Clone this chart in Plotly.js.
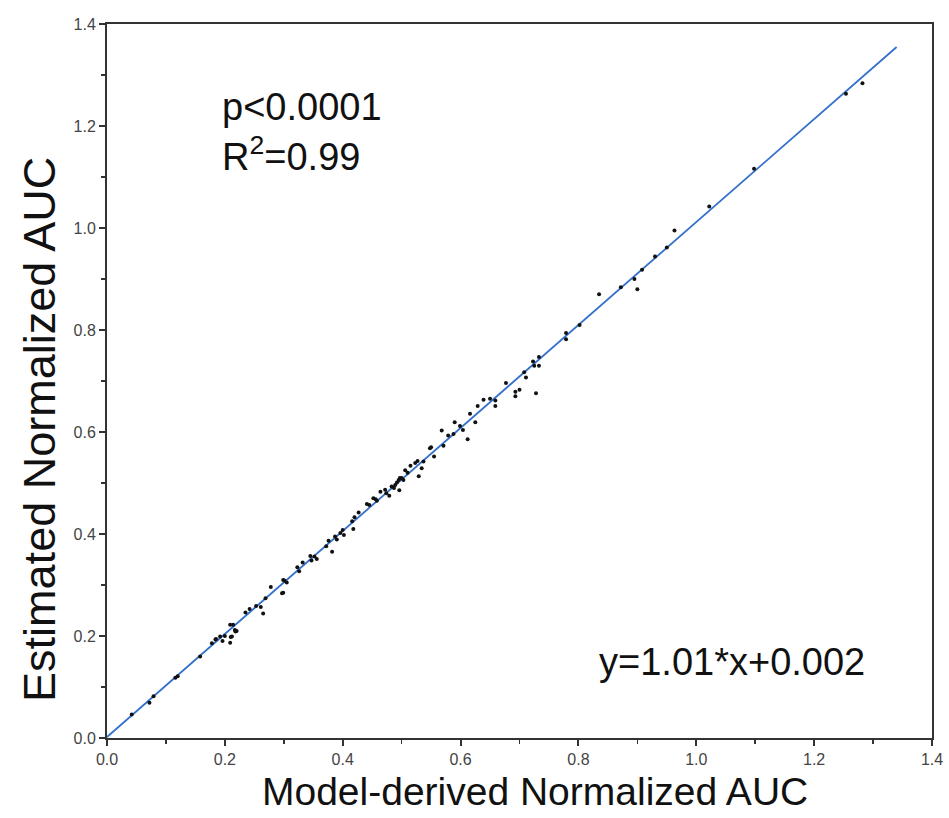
<!DOCTYPE html>
<html>
<head>
<meta charset="utf-8">
<script src="https://cdn.plot.ly/plotly-3.0.1.min.js"></script>
<style>
  html, body { margin: 0; padding: 0; background: #ffffff; }
  #chart { width: 949px; height: 818px; }
</style>
</head>
<body>
<div id="chart"></div>
<script>
// Model-derived normalized AUC (x) vs estimated normalized AUC (y)
const modelAUC = [
  0.042, 0.072, 0.079, 0.116, 0.120, 0.158, 0.178, 0.184, 0.185, 0.192,
  0.196, 0.200, 0.209, 0.209, 0.210, 0.212, 0.214, 0.217, 0.218, 0.220,
  0.235, 0.242, 0.253, 0.261, 0.265, 0.269, 0.278, 0.297, 0.299, 0.299,
  0.301, 0.305, 0.323, 0.326, 0.332, 0.345, 0.347, 0.352, 0.356, 0.372,
  0.376, 0.382, 0.387, 0.390, 0.396, 0.400, 0.402, 0.416, 0.418, 0.420,
  0.427, 0.441, 0.445, 0.452, 0.456, 0.458, 0.464, 0.472, 0.474, 0.479,
  0.483, 0.487, 0.489, 0.492, 0.495, 0.496, 0.497, 0.500, 0.503, 0.506,
  0.510, 0.515, 0.523, 0.527, 0.529, 0.534, 0.537, 0.548, 0.550, 0.555,
  0.568, 0.571, 0.579, 0.588, 0.590, 0.599, 0.604, 0.612, 0.616, 0.625,
  0.629, 0.639, 0.650, 0.659, 0.659, 0.677, 0.693, 0.693, 0.700, 0.708,
  0.711, 0.723, 0.725, 0.728, 0.733, 0.733, 0.779, 0.779, 0.802, 0.835,
  0.872, 0.895, 0.900, 0.908, 0.930, 0.950, 0.963, 1.022, 1.098, 1.254,
  1.282
];
const estimatedAUC = [
  0.046, 0.069, 0.082, 0.118, 0.121, 0.160, 0.186, 0.193, 0.194, 0.199,
  0.190, 0.200, 0.187, 0.222, 0.198, 0.199, 0.222, 0.212, 0.209, 0.210,
  0.246, 0.253, 0.259, 0.257, 0.244, 0.274, 0.296, 0.284, 0.310, 0.285,
  0.309, 0.305, 0.335, 0.327, 0.344, 0.357, 0.348, 0.356, 0.351, 0.376,
  0.387, 0.365, 0.395, 0.389, 0.402, 0.408, 0.398, 0.425, 0.410, 0.433,
  0.442, 0.459, 0.457, 0.470, 0.468, 0.465, 0.483, 0.487, 0.480, 0.475,
  0.493, 0.490, 0.496, 0.501, 0.506, 0.486, 0.510, 0.510, 0.506, 0.525,
  0.520, 0.534, 0.539, 0.543, 0.513, 0.529, 0.542, 0.568, 0.570, 0.552,
  0.603, 0.573, 0.593, 0.596, 0.619, 0.612, 0.604, 0.586, 0.636, 0.619,
  0.651, 0.663, 0.665, 0.662, 0.651, 0.696, 0.679, 0.670, 0.683, 0.717,
  0.707, 0.738, 0.730, 0.676, 0.747, 0.730, 0.794, 0.782, 0.810, 0.870,
  0.884, 0.900, 0.880, 0.918, 0.944, 0.962, 0.995, 1.042, 1.116, 1.263,
  1.284
];
// Fitted regression line y = 1.01*x + 0.002, end points
const fitX = [0.0, 1.34];
const fitY = [0.002, 1.355];
// Tick values and labels
const tickVals = [0, 0.2, 0.4, 0.6, 0.8, 1.0, 1.2, 1.4];
const tickText = ["0.0", "0.2", "0.4", "0.6", "0.8", "1.0", "1.2", "1.4"];

const FONT = "Arial, 'Liberation Sans', Helvetica, sans-serif";

const traces = [
  {
    x: fitX, y: fitY, type: "scatter", mode: "lines",
    line: { color: "#3371cc", width: 1.8 },
    hoverinfo: "skip", showlegend: false
  },
  {
    x: modelAUC, y: estimatedAUC, type: "scatter", mode: "markers",
    marker: { color: "#111111", size: 4 },
    showlegend: false
  }
];

function axisStyle() {
  return {
    range: [0, 1.4],
    tickmode: "array",
    tickvals: tickVals,
    ticktext: tickText,
    ticks: "outside",
    ticklen: 6,
    tickwidth: 2,
    tickcolor: "#333333",
    showline: true,
    linecolor: "#333333",
    linewidth: 2,
    mirror: true,
    showgrid: false,
    zeroline: false,
    fixedrange: true,
    tickfont: { family: FONT, size: 16, color: "#444444" },
    minor: { dtick: 0.1, tick0: 0, ticks: "outside", ticklen: 4, tickwidth: 1.5, tickcolor: "#333333", showgrid: false }
  };
}

const layout = {
  width: 949,
  height: 818,
  autosize: false,
  margin: { l: 107, r: 17, t: 24, b: 80 },
  paper_bgcolor: "#ffffff",
  plot_bgcolor: "#ffffff",
  showlegend: false,
  xaxis: axisStyle(),
  yaxis: axisStyle(),
  annotations: [
    {
      text: "Model-derived Normalized AUC",
      xref: "paper", yref: "paper", x: 0.519, y: -0.0755,
      xanchor: "center", yanchor: "middle", showarrow: false,
      font: { family: FONT, size: 39, color: "#111111" }
    },
    {
      text: "Estimated Normalized AUC",
      xref: "paper", yref: "paper", x: -0.082, y: 0.432,
      xanchor: "center", yanchor: "middle", textangle: -90, showarrow: false,
      font: { family: FONT, size: 45, color: "#111111" }
    },
    {
      text: "p<0.0001",
      xref: "paper", yref: "paper", x: 0.137, y: 0.884,
      xanchor: "left", yanchor: "middle", showarrow: false,
      font: { family: FONT, size: 38, color: "#111111" }
    },
    {
      text: "R<sup>2</sup>=0.99",
      xref: "paper", yref: "paper", x: 0.137, y: 0.818,
      xanchor: "left", yanchor: "middle", showarrow: false,
      font: { family: FONT, size: 38, color: "#111111" }
    },
    {
      text: "y=1.01*x+0.002",
      xref: "paper", yref: "paper", x: 0.594, y: 0.107,
      xanchor: "left", yanchor: "middle", showarrow: false,
      font: { family: FONT, size: 38, color: "#111111" }
    }
  ]
};

Plotly.newPlot("chart", traces, layout, { displayModeBar: false, staticPlot: true });
</script>
</body>
</html>
